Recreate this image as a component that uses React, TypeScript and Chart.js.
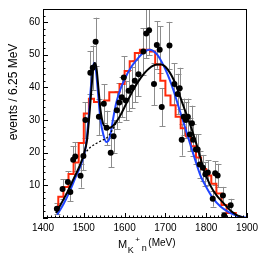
import React, { useEffect, useRef } from 'react';
import { Chart, registerables } from 'chart.js';

Chart.register(...registerables);

// ---- data ----
const massX = [1434, 1448, 1461, 1467, 1474, 1479, 1492, 1499, 1504, 1516, 1522, 1529, 1537, 1549, 1556, 1566, 1573, 1581, 1587, 1593, 1598, 1603, 1610, 1619, 1625, 1634, 1646, 1653, 1660, 1672, 1679, 1686, 1691, 1710, 1722, 1730, 1735, 1740, 1745, 1750, 1755, 1760, 1765, 1768, 1775, 1779, 1784, 1792, 1798, 1804, 1816, 1822, 1828, 1841, 1844, 1860];
const events = [2.8, 8.9, 11, 8, 17.8, 18.8, 12.9, 19, 30, 44.5, 46, 54, 31, 35, 27.6, 20, 25, 33, 35.4, 37, 43, 36, 39, 40, 42, 44, 51, 56.5, 57.5, 41, 53, 51.5, 34, 52.8, 41, 38, 39.7, 24, 31, 30, 31, 25.6, 29, 24, 21, 21, 16.4, 15.4, 13.4, 13.9, 5.9, 13.7, 13, 6.9, 0.8, 3.9];

const histEdges = [1437.5, 1450, 1462.5, 1475, 1487.5, 1500, 1512.5, 1525, 1537.5, 1550, 1562.5, 1575, 1587.5, 1600, 1612.5, 1625, 1637.5, 1650, 1662.5, 1675, 1687.5, 1700, 1712.5, 1725, 1737.5, 1750, 1762.5, 1775, 1787.5, 1800, 1812.5, 1825, 1837.5, 1850, 1862.5, 1875];
const histValues = [3, 6.5, 9.5, 13.5, 17, 23, 32, 36.5, 35.5, 35, 36, 38.5, 38.5, 41, 45, 48, 50.5, 51.5, 51.5, 51, 47, 42, 37.5, 34.5, 31, 27.5, 25, 22, 18.5, 15, 13, 10.5, 7.5, 4, 1.5];

const fitMass = [1432, 1445, 1460, 1475, 1490, 1500, 1508, 1514, 1519, 1523, 1527, 1531, 1536, 1541, 1547, 1553, 1560, 1570, 1580, 1590, 1600, 1620, 1640, 1660, 1680, 1690, 1700, 1720, 1745, 1765, 1780, 1795, 1810, 1825, 1843, 1860, 1875, 1890];
const fitValues = [1.5, 4.5, 8, 12, 16, 19.5, 24, 32, 40, 46, 47.5, 46, 39.5, 33, 29, 28, 27.5, 28, 29.5, 31.5, 34, 39, 43, 45.8, 47, 47, 46.3, 42.4, 34, 27, 21, 14.5, 10, 7, 4.5, 2.2, 0.9, 0.2];

const bkgMass = [1500, 1515, 1530, 1545, 1556, 1568, 1580];
const bkgValues = [19.5, 21.5, 22.8, 23.8, 24.5, 26.5, 29.3];

const altMass = [1435, 1450, 1465, 1480, 1495, 1505, 1512, 1518, 1523, 1526, 1530, 1535, 1541, 1548, 1555, 1560, 1566, 1572, 1580, 1590, 1600, 1615, 1630, 1645, 1660, 1670, 1680, 1690, 1700, 1710, 1720, 1730, 1740, 1750, 1760, 1773, 1786, 1800, 1817, 1835, 1855, 1875, 1900];
const altValues = [1, 4.2, 8, 12.5, 17, 22, 31, 41, 46.5, 47.5, 45, 38, 30, 25.5, 23.3, 23.6, 26, 30.5, 35.5, 39.5, 42.5, 46, 48.5, 50.5, 51.5, 51.2, 50, 48, 45.5, 42.5, 39, 35, 31, 27, 23, 17.8, 13, 9.5, 6, 3.5, 1.8, 0.7, 0.1];

const xTicks = [1400, 1500, 1600, 1700, 1800, 1900];
const yTicks = [10, 20, 30, 40, 50, 60];

const FONT = "'Liberation Sans', Arial, Helvetica, sans-serif";

const framePlugin = {
  id: 'frame',
  beforeDatasetsDraw(chart: any) {
    const { ctx, scales } = chart;
    const xs = scales.x, ys = scales.y;
    ctx.save();
    ctx.beginPath();
    ctx.rect(chart.chartArea.left, chart.chartArea.top, chart.chartArea.right - chart.chartArea.left, chart.chartArea.bottom - chart.chartArea.top);
    ctx.clip();
    ctx.strokeStyle = '#8c8c8c';
    ctx.lineWidth = 1;
    for (let i = 0; i < massX.length; i++) {
      const err = Math.sqrt(events[i]);
      const px = Math.round(xs.getPixelForValue(massX[i])) + 0.5;
      const y1 = ys.getPixelForValue(events[i] + err);
      const y2 = ys.getPixelForValue(Math.max(0, events[i] - err));
      ctx.beginPath();
      ctx.moveTo(px, y1); ctx.lineTo(px, y2);
      ctx.moveTo(px - 3, Math.round(y1) + 0.5); ctx.lineTo(px + 3, Math.round(y1) + 0.5);
      ctx.moveTo(px - 3, Math.round(y2) + 0.5); ctx.lineTo(px + 3, Math.round(y2) + 0.5);
      ctx.stroke();
    }
    ctx.restore();
  },
  afterDraw(chart: any) {
    const { ctx, chartArea, scales } = chart;
    const xs = scales.x, ys = scales.y;
    const { left, right, top, bottom } = chartArea;
    ctx.save();
    ctx.strokeStyle = '#000';
    ctx.lineWidth = 1;
    ctx.strokeRect(left + 0.5, top + 0.5, right - left - 1, bottom - top - 1);
    ctx.beginPath();
    for (let v = xs.min; v <= xs.max; v += 10) {
      const px = Math.round(xs.getPixelForValue(v)) + 0.5;
      const len = (v % 100 === 0) ? 5 : 2.5;
      ctx.moveTo(px, bottom); ctx.lineTo(px, bottom - len);
    }
    for (let v = 0; v <= ys.max; v += 2) {
      const py = Math.round(ys.getPixelForValue(v)) + 0.5;
      const len = (v % 10 === 0) ? 5 : 2.5;
      ctx.moveTo(left, py); ctx.lineTo(left + len, py);
    }
    ctx.stroke();

    ctx.fillStyle = '#000';
    // y title
    ctx.save();
    ctx.translate(14, 92);
    ctx.rotate(-Math.PI / 2);
    ctx.textAlign = 'center';
    ctx.textBaseline = 'middle';
    ctx.font = `12px ${FONT}`;
    ctx.fillText('events / 6.25 MeV', 0, 0);
    ctx.restore();

    // x title  M_{K+n}(MeV)
    ctx.textAlign = 'left';
    ctx.textBaseline = 'alphabetic';
    let x = 118;
    ctx.font = `11px ${FONT}`;
    ctx.fillText('M', x, 248);
    x += ctx.measureText('M').width + 0.5;
    ctx.font = `9px ${FONT}`;
    ctx.fillText('K', x, 253);
    x += ctx.measureText('K').width + 1.5;
    ctx.font = `8px ${FONT}`;
    ctx.fillText('+', x, 242);
    x += ctx.measureText('+').width + 2;
    ctx.font = `9px ${FONT}`;
    ctx.fillText('n', x, 251);
    x += ctx.measureText('n').width + 1.5;
    ctx.font = `10px ${FONT}`;
    ctx.fillText('(MeV)', x, 246);
    ctx.restore();
  },
};

const toPts = (xs: number[], ys: number[]) => xs.map((v, i) => ({ x: v, y: ys[i] }));

export default function App() {
  const ref = useRef<HTMLCanvasElement | null>(null);
  useEffect(() => {
    if (!ref.current) return;
    const histPts = histEdges.map((e, i) => ({ x: e, y: histValues[Math.min(i, histValues.length - 1)] }));
    const chart = new Chart(ref.current, {
      type: 'line',
      data: {
        datasets: [
          {
            data: toPts(massX, events),
            showLine: false,
            pointRadius: 3,
            pointBackgroundColor: '#000',
            pointBorderWidth: 0,
            order: 0,
          } as any,
          {
            data: toPts(fitMass, fitValues),
            borderColor: '#000',
            borderWidth: 2,
            pointRadius: 0,
            cubicInterpolationMode: 'monotone',
            order: 1,
          },
          {
            data: toPts(bkgMass, bkgValues),
            borderColor: '#000',
            borderWidth: 1.3,
            borderDash: [2, 2],
            pointRadius: 0,
            cubicInterpolationMode: 'monotone',
            order: 2,
          },
          {
            data: toPts(altMass, altValues),
            borderColor: '#1f44ff',
            borderWidth: 2,
            pointRadius: 0,
            cubicInterpolationMode: 'monotone',
            order: 3,
          },
          {
            data: histPts,
            borderColor: '#ff2a0a',
            borderWidth: 2,
            pointRadius: 0,
            stepped: 'after',
            order: 4,
          },
        ],
      },
      options: {
        responsive: false,
        animation: false,
        devicePixelRatio: 1,
        layout: { padding: { left: 0, top: 5, right: 27, bottom: 0 } },
        plugins: { legend: { display: false }, tooltip: { enabled: false } },
        scales: {
          x: {
            type: 'linear',
            min: 1400,
            max: 1900,
            grid: { display: false, drawTicks: false },
            border: { display: false },
            ticks: {
              stepSize: 100,
              autoSkip: false,
              maxRotation: 0,
              padding: 4,
              color: '#000',
              font: { family: FONT, size: 10 },
              callback: (v: any) => (xTicks.includes(Number(v)) ? String(v) : ''),
            },
            afterFit: (s: any) => { s.height = 45; },
          },
          y: {
            type: 'linear',
            min: 0,
            max: 64,
            grid: { display: false, drawTicks: false },
            border: { display: false },
            ticks: {
              stepSize: 10,
              autoSkip: false,
              padding: 3,
              color: '#000',
              font: { family: FONT, size: 10 },
              callback: (v: any) => (yTicks.includes(Number(v)) ? String(v) : ''),
            },
            afterFit: (s: any) => { s.width = 43; },
          },
        },
      },
      plugins: [framePlugin],
    });
    return () => chart.destroy();
  }, []);
  return (
    <div style={{ position: 'fixed', left: 0, top: 0, width: 274, height: 263, background: '#fff' }}>
      <canvas ref={ref} width={274} height={263} />
    </div>
  );
}
